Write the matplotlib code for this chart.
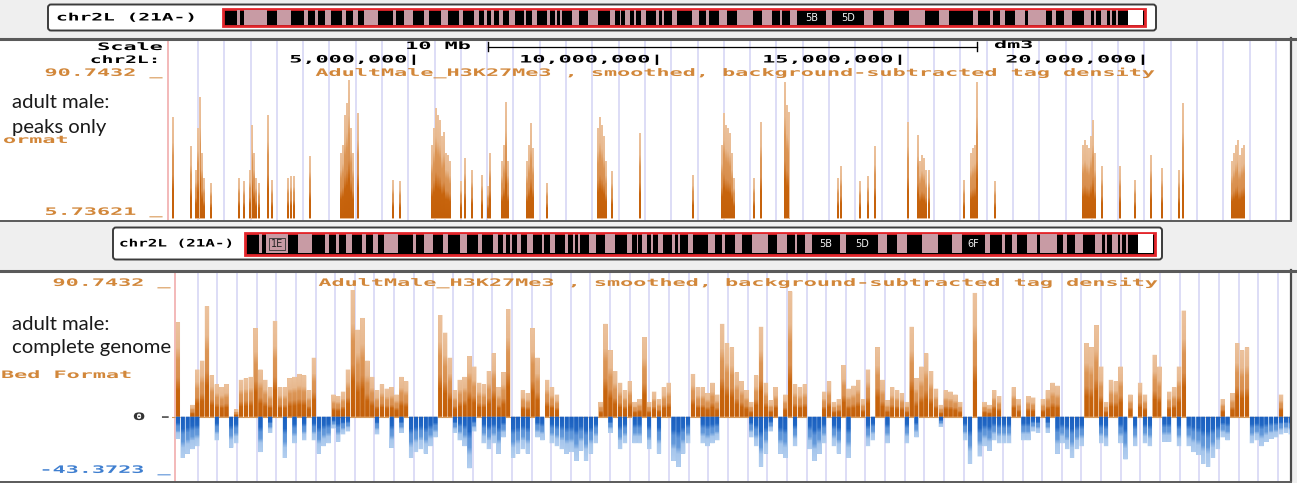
import numpy as np
import matplotlib
matplotlib.use("Agg")
import matplotlib.pyplot as plt
from matplotlib.patches import Rectangle, FancyBboxPatch
from matplotlib.path import Path
from matplotlib.transforms import Affine2D
from matplotlib import patheffects
from matplotlib.colors import LinearSegmentedColormap

# ------------------------------------------------------------------ data
TRACK_TITLE = "AdultMale_H3K27Me3 , smoothed, background-subtracted tag density"
CHROM_LABEL = "chr2L (21A-)"
Y_MAX = 90.7432
PEAK_Y_MIN = 5.73621
FULL_Y_MIN = -43.3723
SCALE_TICKS_MB = [5, 10, 15, 20]
SCALE_TICK_LABELS = ["5,000,000|", "10,000,000|", "15,000,000|", "20,000,000|"]

# peaks-only track: bar position (Mb) and smoothed tag density
peak_pos_mb = [0.02, 0.39, 0.49, 0.53, 0.58, 0.62, 0.66, 0.80, 1.38, 1.48,
               1.60, 1.65, 1.69, 1.73, 1.79, 1.98, 2.06, 2.39, 2.45, 2.51,
               2.84, 3.48, 3.52, 3.56, 3.60, 3.64, 3.68, 3.72, 3.83, 4.55,
               4.69, 5.35, 5.39, 5.43, 5.47, 5.51, 5.56, 5.60, 5.64, 5.68,
               5.72, 5.95, 6.03, 6.17, 6.38, 6.50, 6.54, 6.79, 6.83, 6.87,
               6.91, 7.30, 7.34, 7.39, 7.43, 7.72, 8.77, 8.81, 8.85, 8.89,
               8.93, 9.05, 9.63, 10.72, 11.32, 11.36, 11.40, 11.44, 11.48, 11.52,
               11.56, 11.98, 12.12, 12.61, 12.65, 12.69, 13.70, 13.77, 14.16, 14.32,
               14.47, 15.14, 15.35, 15.39, 15.43, 15.47, 15.51, 15.58, 16.30, 16.44,
               16.48, 16.52, 16.56, 16.93, 18.74, 18.79, 18.83, 18.87, 18.91, 18.95,
               18.99, 19.14, 19.51, 19.81, 20.14, 20.37, 20.72, 20.80, 21.81, 21.85,
               21.89, 21.93, 21.97, 22.02, 22.06]
peak_val = [67, 49, 35, 60, 79, 45, 30, 27, 30, 28,
            35, 62, 45, 30, 27, 68, 29, 30, 31, 31,
            43, 45, 50, 68, 75, 89, 60, 45, 69, 29,
            28, 50, 60, 72, 68, 65, 55, 58, 45, 44,
            40, 28, 42, 35, 32, 25, 45, 40, 50, 76,
            40, 40, 50, 63, 48, 27, 60, 67, 62, 55,
            40, 34, 57, 32, 50, 69, 62, 60, 57, 45,
            30, 30, 64, 88, 74, 70, 30, 37, 28, 31,
            49, 64, 56, 40, 44, 42, 35, 35, 29, 45,
            48, 50, 88, 28, 50, 53, 50, 48, 55, 65,
            45, 37, 37, 29, 44, 36, 35, 75, 40, 45,
            50, 53, 44, 48, 50]

# complete-genome track: 0.1 Mb bins, first bin centred at 0.12 Mb
bin_start_mb = 0.12
bin_step_mb = 0.1
full_pos = [64, 0, 0, 8, 32, 38, 75, 28, 22, 20,
            22, 0, 5, 25, 26, 27, 60, 32, 25, 20,
            65, 20, 20, 26, 27, 29, 28, 18, 40, 0,
            0, 0, 15, 14, 17, 32, 86, 59, 67, 38,
            27, 18, 22, 19, 20, 15, 27, 24, 0, 0,
            0, 0, 0, 0, 69, 57, 40, 18, 25, 27,
            41, 34, 23, 22, 31, 43, 20, 30, 73, 0,
            0, 18, 16, 60, 40, 0, 25, 20, 15, 0,
            0, 0, 0, 0, 0, 0, 0, 10, 63, 45,
            31, 23, 18, 24, 10, 12, 54, 10, 17, 12,
            20, 23, 0, 0, 0, 0, 29, 20, 20, 16,
            23, 15, 63, 50, 47, 30, 24, 18, 10, 28,
            61, 23, 11, 20, 0, 15, 85, 22, 20, 22,
            0, 0, 0, 17, 24, 10, 12, 35, 19, 21,
            25, 12, 32, 0, 47, 25, 11, 20, 18, 16,
            10, 61, 26, 34, 43, 31, 19, 8, 18, 17,
            15, 10, 0, 0, 84, 0, 10, 8, 18, 14,
            0, 0, 20, 12, 0, 14, 13, 0, 12, 18,
            23, 21, 0, 0, 0, 0, 0, 50, 47, 62,
            34, 10, 25, 24, 34, 0, 15, 0, 23, 15,
            0, 42, 34, 0, 17, 20, 34, 72, 0, 0,
            0, 0, 0, 0, 0, 12, 0, 16, 50, 45,
            47, 0, 0, 0, 0, 0, 0, 15, 0, 0]
full_neg = [-15, -28, -25, -22, -20, 0, 0, 0, -16, 0,
            0, -21, -18, 0, 0, 0, 0, -24, 0, -11,
            0, 0, -28, 0, -18, 0, -16, 0, -16, -25,
            -20, -18, -8, -17, -12, -10, 0, 0, 0, 0,
            0, -12, 0, 0, -21, 0, -11, 0, -28, -24,
            -22, -25, -20, -14, 0, 0, 0, -11, -16, -20,
            -35, -10, 0, -18, -22, -18, -25, -14, 0, -28,
            -25, -22, -25, 0, -14, -16, 0, -18, -20, -22,
            -25, -24, -30, -23, -30, -25, -18, 0, 0, -11,
            0, -22, -18, 0, -18, -18, 0, -22, 0, -25,
            0, 0, -30, -34, -25, -18, 0, 0, -18, -20,
            -18, -16, 0, 0, 0, 0, 0, 0, -14, -20,
            -34, -25, -10, 0, -25, -28, 0, -20, 0, 0,
            -22, -30, -25, -18, 0, -20, -25, 0, -28, 0,
            0, 0, -20, -16, 0, 0, -18, 0, 0, 0,
            -18, 0, -14, 0, 0, 0, 0, -7, 0, 0,
            0, 0, -16, -32, 0, -27, -20, -23, -16, -18,
            -18, -18, 0, 0, -16, -16, -10, -11, 0, -11,
            0, -25, -18, -22, -28, -22, -20, 0, 0, 0,
            -18, -20, 0, 0, -18, -29, 0, -20, 0, -18,
            -20, 0, 0, -17, -17, 0, -20, 0, -20, -24,
            -26, -32, -34, -28, -22, -14, -16, 0, 0, 0,
            0, -18, -16, -20, -17, -15, -14, -12, -11, -12]

# cytoband ideogram: pale band start/end in percent of chromosome length
band_start = [1.54, 2.31, 5.82, 8.79, 10.0, 11.1, 12.86, 14.07, 15.27, 18.46,
              19.67, 21.76, 23.63, 25.6, 27.25, 28.35, 29.12, 29.89, 30.99, 32.64,
              33.52, 35.16, 36.04, 36.59, 37.8, 39.56, 41.98, 43.08, 43.63, 44.62,
              45.38, 46.92, 47.58, 48.68, 50.88, 52.42, 53.85, 55.71, 58.46, 60.44,
              61.54, 65.38, 69.56, 71.65, 74.4, 77.69, 81.32, 83.19, 84.29, 85.93,
              87.36, 89.89, 91.21, 93.41, 94.51, 95.27, 96.15, 96.81]
band_end = [1.87, 4.73, 7.36, 9.23, 10.33, 11.76, 13.3, 14.62, 16.81, 18.79,
            20.66, 22.31, 24.4, 26.04, 27.8, 28.68, 29.34, 30.33, 31.65, 32.86,
            34.07, 35.49, 36.26, 36.81, 38.57, 40.66, 42.53, 43.19, 44.18, 44.84,
            45.93, 47.25, 47.8, 49.23, 51.65, 52.75, 54.62, 57.47, 59.56, 60.66,
            62.31, 66.04, 70.55, 72.75, 76.15, 78.79, 81.87, 83.52, 84.84, 87.03,
            89.23, 90.33, 92.09, 94.18, 94.73, 95.93, 96.37, 97.03]
heterochromatin = (98.13, 99.78)
band_names = ["1E", "5B", "5D", "6F"]
band_name_pos = [3.52, 63.85, 67.8, 80.0]

# ------------------------------------------------------------------ style
W, H = 1297, 483
PX_PER_MB = 48.6
X0_PX = 172          # pixel column of position 0
ORANGE_TXT = "#d2873a"
BLUE_TXT = "#3f7fd0"
GUIDE = "#dadaf6"
BG = "#efefef"
MONO = "DejaVu Sans Mono"

orange_cmap = LinearSegmentedColormap.from_list(
    "or", [(0, "#c4600a"), (0.28, "#c8650e"), (0.42, "#d98f4e"), (0.6, "#dc9656"),
           (0.74, "#e8b98f"), (1, "#ecc29d")])
blue_cmap = LinearSegmentedColormap.from_list(
    "bl", [(0, "#1b60c0"), (0.28, "#2167c4"), (0.42, "#5a92d8"), (0.6, "#6399da"),
           (0.74, "#a6c6ec"), (1, "#b3cff0")])


class Stretch(patheffects.AbstractPathEffect):
    """Widen glyphs horizontally about the text anchor (browser-style wide font)."""

    def __init__(self, sx, anchor):
        super().__init__()
        self.sx = sx
        self.anchor = anchor

    def draw_path(self, renderer, gc, tpath, affine, rgbFace=None):
        w = tpath.get_extents().x1 if len(tpath.vertices) else 0.0
        pre = (Affine2D().translate(-self.anchor * w, 0)
               .scale(self.sx, 1).translate(self.anchor * w, 0))
        renderer.draw_path(gc, tpath, pre + affine, rgbFace)


def wtext(ax, x, y, s, color="black", ha="left", size=7.4, sx=2.12, **kw):
    anchor = {"left": 0.0, "center": 0.5, "right": 1.0}[ha]
    return ax.text(x, y, s, color=color, ha=ha, va="center", fontsize=size,
                   family=MONO, weight="bold",
                   path_effects=[Stretch(sx, anchor)], **kw)


def shade(ax, bars, cmap, ncols=2600, nrows=420):
    """Fill each bar with a vertical ramp from its base to its own top."""
    x0, x1 = ax.get_xlim()
    y0, y1 = ax.get_ylim()
    xs = np.linspace(x0, x1, ncols)
    ys = np.linspace(y0, y1, nrows)
    base = np.full(ncols, np.nan)
    span = np.full(ncols, np.nan)
    for r in bars.patches:
        m = (xs >= r.get_x()) & (xs <= r.get_x() + r.get_width())
        base[m] = r.get_y()
        span[m] = r.get_height()
    with np.errstate(invalid="ignore", divide="ignore"):
        frac = (ys[:, None] - base[None, :]) / span[None, :]
    frac = np.clip(np.nan_to_num(frac, nan=1.0), 0, 1)
    im = ax.imshow(cmap(frac), extent=(x0, x1, y0, y1), origin="lower",
                   aspect="auto", interpolation="nearest", zorder=3)
    paths = [r.get_path().transformed(r.get_patch_transform()) for r in bars.patches]
    im.set_clip_path(Path.make_compound_path(*paths), ax.transData)
    ax.set_xlim(x0, x1)
    ax.set_ylim(y0, y1)


fig = plt.figure(figsize=(W / 100, H / 100), dpi=100)
fig.patch.set_facecolor(BG)

bg = fig.add_axes([0, 0, 1, 1])
bg.set_xlim(0, W)
bg.set_ylim(H, 0)
bg.axis("off")
bg.set_zorder(0)


def px(mb):
    return X0_PX + PX_PER_MB * mb


# ---------------------------------------------------------------- panels
bg.add_patch(Rectangle((0, 40), 1291, 180, facecolor="white", edgecolor="none"))
bg.add_patch(Rectangle((0, 272), 1291, 209, facecolor="white", edgecolor="none"))
for y0p, y1p in [(40, 220), (272, 481)]:
    bg.plot([1291, 1291], [y0p - 2, y1p], color="#4a4a4a", lw=1.6)
bg.plot([0, 1297], [38.5, 38.5], color="#5a5a5a", lw=2.2)
bg.plot([0, 1291], [220.5, 220.5], color="#5a5a5a", lw=1.4)
bg.plot([0, 1297], [270.5, 270.5], color="#5a5a5a", lw=2.2)
bg.plot([0, 1291], [481.5, 481.5], color="#5a5a5a", lw=1.4)

# browser guidelines
for gx in np.arange(198.0, 1285, 26.29):
    bg.plot([gx, gx], [40, 220], color=GUIDE, lw=1.3, zorder=1)
for gx in np.arange(197.7, 1285, 19.64):
    bg.plot([gx, gx], [272, 481], color=GUIDE, lw=1.3, zorder=1)
bg.plot([167.5, 167.5], [40, 220], color="#f2b3b3", lw=1.3, zorder=1)
bg.plot([174.5, 174.5], [272, 481], color="#f2b3b3", lw=1.3, zorder=1)


# ---------------------------------------------------------------- ideograms
def ideogram(x0p, x1p, y0p, y1p, box, label_x, label_sx, names):
    bx0, by0, bx1, by1 = box
    bg.add_patch(FancyBboxPatch((bx0, by0), bx1 - bx0, by1 - by0,
                                boxstyle="round,pad=0,rounding_size=3",
                                facecolor="white", edgecolor="#3c3c3c", lw=1.4))
    wtext(bg, label_x, (by0 + by1) / 2, CHROM_LABEL, ha="left", sx=label_sx)
    L = x1p - x0p
    bg.add_patch(Rectangle((x0p, y0p), L, y1p - y0p, facecolor="black",
                           edgecolor="#e3262b", lw=2.0))
    for s, e in zip(band_start, band_end):
        bg.add_patch(Rectangle((x0p + L * s / 100, y0p + 1.5), L * (e - s) / 100,
                               y1p - y0p - 3, facecolor="#c89ba4", edgecolor="none"))
    hs, he = heterochromatin
    bg.add_patch(Rectangle((x0p + L * hs / 100, y0p + 1.5), L * (he - hs) / 100,
                           y1p - y0p - 3, facecolor="white", edgecolor="none"))
    for name, pos in zip(band_names, band_name_pos):
        if name not in names:
            continue
        cx = x0p + L * pos / 100
        if name == "1E":
            bg.text(cx, (y0p + y1p) / 2 + 0.5, name, color="#222222", ha="center",
                    va="center", fontsize=7, family="DejaVu Sans",
                    bbox=dict(boxstyle="square,pad=0.15", fc="#c89ba4",
                              ec="#333333", lw=0.6))
        else:
            bg.text(cx, (y0p + y1p) / 2 + 0.5, name, color="#f4f4f4", ha="center",
                    va="center", fontsize=7, family="DejaVu Sans")


ideogram(223, 1145, 8.5, 26, (48, 4.5, 1156, 30.5), 56, 1.9, ["5B", "5D"])
ideogram(245, 1155, 232.5, 254.5, (113, 227.5, 1162, 259.5), 119, 1.55,
         ["1E", "5B", "5D", "6F"])

# ---------------------------------------------------------------- labels
wtext(bg, 162, 47, "Scale", ha="right")
wtext(bg, 158, 60, "chr2L:", ha="right", sx=1.9)
wtext(bg, 470, 46, "10 Mb", ha="right")
bg.plot([488, 977], [46.5, 46.5], color="black", lw=0.9)
bg.plot([488, 488], [42, 51], color="black", lw=1.0)
bg.plot([977, 977], [42, 51], color="black", lw=1.0)
wtext(bg, 994, 45, "dm3", ha="left")
for mb, lab in zip(SCALE_TICKS_MB, SCALE_TICK_LABELS):
    wtext(bg, px(mb) + 2, 60, lab, ha="right")

wtext(bg, 162, 73, "90.7432 _", color=ORANGE_TXT, ha="right")
wtext(bg, 733, 73, TRACK_TITLE, color=ORANGE_TXT, ha="center")
wtext(bg, 3, 140, "ormat", color=ORANGE_TXT, ha="left")
wtext(bg, 162, 212, "5.73621 _", color=ORANGE_TXT, ha="right")

wtext(bg, 170, 283, "90.7432 _", color=ORANGE_TXT, ha="right")
wtext(bg, 736, 283, TRACK_TITLE, color=ORANGE_TXT, ha="center")
wtext(bg, 1, 375, "Bed Format", color=ORANGE_TXT, ha="left")
wtext(bg, 170, 417, "0 -", color="#333333", ha="right")
wtext(bg, 170, 470, "-43.3723 _", color=BLUE_TXT, ha="right")

for y, s in [(103, "adult male:"), (127, "peaks only"),
             (325, "adult male:"), (347, "complete genome")]:
    bg.text(12, y, s, ha="left", va="center", fontsize=14.6, family="Lato",
            color="#1a1a1a", zorder=6)


# ---------------------------------------------------------------- tracks
def track_axes(top_px, bottom_px):
    x_right = 1290
    ax = fig.add_axes([X0_PX / W, 1 - bottom_px / H,
                       (x_right - X0_PX) / W, (bottom_px - top_px) / H])
    ax.set_xlim(0, (x_right - X0_PX) / PX_PER_MB)
    ax.axis("off")
    ax.patch.set_alpha(0)
    ax.set_zorder(2)
    return ax


ax1 = track_axes(77, 218.5)
ax1.set_ylim(PEAK_Y_MIN, Y_MAX)
pk = ax1.bar(peak_pos_mb, np.array(peak_val) - PEAK_Y_MIN, bottom=PEAK_Y_MIN,
             width=0.04, color="#e8b98f", linewidth=0, zorder=2)
shade(ax1, pk, orange_cmap)

ax2 = track_axes(283, 480.6)
ax2.set_ylim(FULL_Y_MIN, Y_MAX)
centers = bin_start_mb + bin_step_mb * np.arange(len(full_pos))
bp = ax2.bar(centers, full_pos, width=0.09, color="#e8b98f", linewidth=0, zorder=2)
bn = ax2.bar(centers, full_neg, width=0.09, color="#a6c6ec", linewidth=0, zorder=2)
shade(ax2, bp, orange_cmap)
shade(ax2, bn, blue_cmap)
ax2.axhline(0, color="#d59a5c", lw=0.8, zorder=1)

fig.savefig("out.png", dpi=100, facecolor=fig.get_facecolor())
